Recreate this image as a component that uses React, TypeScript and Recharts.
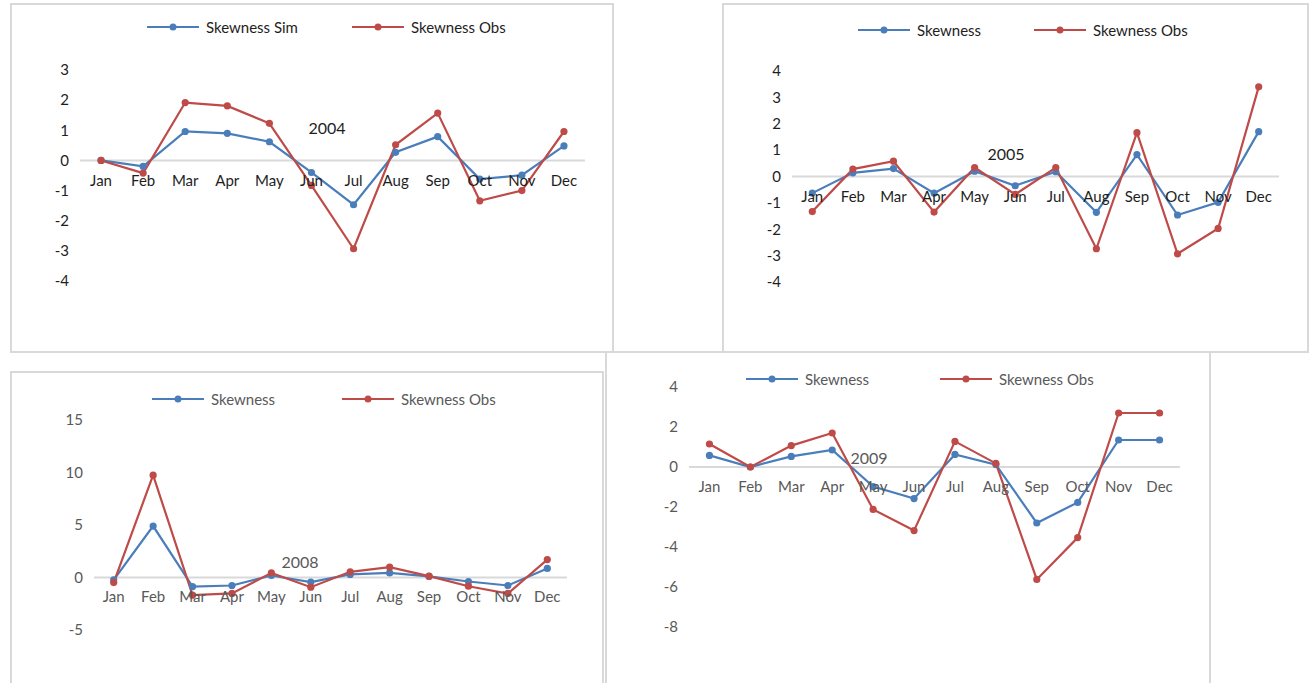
import { LineChart, Line, XAxis, YAxis, ReferenceLine, Legend } from 'recharts';

const FONT = 'Lato, "Open Sans", sans-serif';
const BLUE = '#4a7ebb';
const RED = '#be4b48';
const DARK_TEXT = '#1e1e1e';
const GREY_TEXT = '#595959';
const Y_AXIS_W = 50;
const X_AXIS_H = 1;

const months = ['Jan', 'Feb', 'Mar', 'Apr', 'May', 'Jun', 'Jul', 'Aug', 'Sep', 'Oct', 'Nov', 'Dec'];

// 2004
const sim2004 = [0, -0.2, 0.96, 0.9, 0.62, -0.4, -1.47, 0.27, 0.79, -0.62, -0.49, 0.48];
const obs2004 = [0, -0.42, 1.92, 1.81, 1.23, -0.83, -2.93, 0.52, 1.57, -1.34, -1.0, 0.96];
const ticks2004 = [-4, -3, -2, -1, 0, 1, 2, 3];

// 2005
const sim2005 = [-0.63, 0.14, 0.3, -0.63, 0.2, -0.35, 0.18, -1.36, 0.83, -1.46, -0.98, 1.7];
const obs2005 = [-1.33, 0.28, 0.58, -1.35, 0.34, -0.68, 0.34, -2.74, 1.66, -2.93, -1.97, 3.4];
const ticks2005 = [-4, -3, -2, -1, 0, 1, 2, 3, 4];

// 2008
const sim2008 = [-0.22, 4.9, -0.86, -0.76, 0.19, -0.44, 0.29, 0.44, 0.1, -0.38, -0.76, 0.86];
const obs2008 = [-0.48, 9.75, -1.68, -1.52, 0.44, -0.92, 0.54, 0.98, 0.13, -0.83, -1.52, 1.71];
const ticks2008 = [-5, 0, 5, 10, 15];

// 2009
const sim2009 = [0.58, 0, 0.53, 0.85, -0.98, -1.58, 0.63, 0.12, -2.8, -1.77, 1.35, 1.35];
const obs2009 = [1.15, 0, 1.07, 1.7, -2.12, -3.18, 1.28, 0.18, -5.62, -3.53, 2.7, 2.7];
const ticks2009 = [-8, -6, -4, -2, 0, 2, 4];

interface PanelProps {
  left: number;
  top: number;
  width: number;
  height: number;
  margin: { top: number; right: number; bottom: number; left: number };
  ticks: number[];
  sim: number[];
  obs: number[];
  simName: string;
  textColor: string;
  legendXs: [number, number];
  legendY: number;
  title: string;
  titleX: number;
  titleY: number;
  labelGap: number;
}

function SkewPanel(p: PanelProps) {
  const data = months.map((m, i) => ({ month: m, sim: p.sim[i], obs: p.obs[i] }));
  const min = p.ticks[0];
  const max = p.ticks[p.ticks.length - 1];
  const plotW = p.width - p.margin.left - p.margin.right - Y_AXIS_W;
  const plotH = p.height - p.margin.top - p.margin.bottom - X_AXIS_H;
  // categories sit between tick marks like Excel, labels hang under the zero line
  const pad = plotW / 24;
  const zeroShift = (plotH * (0 - min)) / (max - min);

  const renderLegend = (props: any) => (
    <div style={{ position: 'relative', height: 18 }}>
      {(props.payload ?? []).map((item: any, i: number) => (
        <div
          key={item.value}
          style={{
            position: 'absolute',
            left: p.legendXs[i] - p.legendXs[0],
            top: 0,
            display: 'flex',
            alignItems: 'center',
            height: 18,
            whiteSpace: 'nowrap',
          }}
        >
          <svg width={52} height={10} style={{ display: 'block' }}>
            <line x1={0} y1={5} x2={52} y2={5} stroke={item.color} strokeWidth={2} />
            <circle cx={26} cy={5} r={3.5} fill={item.color} />
          </svg>
          <span style={{ marginLeft: 7, fontSize: 15, fontFamily: FONT, color: p.textColor }}>{item.value}</span>
        </div>
      ))}
    </div>
  );

  return (
    <div
      style={{
        position: 'absolute',
        left: p.left,
        top: p.top,
        width: p.width,
        height: p.height,
        boxSizing: 'border-box',
        border: '2px solid #d9d9d9',
        background: '#fff',
      }}
    >
      <div style={{ position: 'absolute', left: -2, top: -2 }}>
        <LineChart width={p.width} height={p.height} data={data} margin={p.margin}>
          <XAxis
            dataKey="month"
            height={X_AXIS_H}
            interval={0}
            axisLine={false}
            tickLine={false}
            tickSize={0}
            tickMargin={0}
            padding={{ left: pad, right: pad }}
            tick={(t: any) => (
              <text
                x={t.x}
                y={t.y - zeroShift + p.labelGap}
                dy="0.36em"
                textAnchor="middle"
                fill={p.textColor}
                fontSize={15}
                fontFamily={FONT}
              >
                {t.payload.value}
              </text>
            )}
          />
          <YAxis
            type="number"
            width={Y_AXIS_W}
            domain={[min, max]}
            ticks={p.ticks}
            interval={0}
            allowDataOverflow
            axisLine={false}
            tickLine={false}
            tickSize={0}
            tickMargin={11}
            tick={{ fill: p.textColor, fontSize: 15, fontFamily: FONT }}
          />
          <ReferenceLine y={0} stroke="#d9d9d9" strokeWidth={2} />
          <Legend
            layout="horizontal"
            verticalAlign="middle"
            align="center"
            itemSorter={(item: any) => (item.dataKey === 'sim' ? 0 : 1)}
            wrapperStyle={{ left: p.legendXs[0], top: p.legendY - 9, width: 420 }}
            content={renderLegend}
          />
          <Line
            type="linear"
            dataKey="sim"
            name={p.simName}
            stroke={BLUE}
            strokeWidth={2.2}
            dot={{ r: 3.6, fill: BLUE, stroke: BLUE, strokeWidth: 0 }}
            activeDot={false}
            isAnimationActive={false}
          />
          <Line
            type="linear"
            dataKey="obs"
            name="Skewness Obs"
            stroke={RED}
            strokeWidth={2.2}
            dot={{ r: 3.6, fill: RED, stroke: RED, strokeWidth: 0 }}
            activeDot={false}
            isAnimationActive={false}
          />
        </LineChart>
      </div>
      <div
        style={{
          position: 'absolute',
          left: p.titleX - 2,
          top: p.titleY - 2,
          transform: 'translate(-50%, -50%)',
          fontFamily: FONT,
          fontSize: 16,
          color: p.textColor,
          pointerEvents: 'none',
        }}
      >
        {p.title}
      </div>
    </div>
  );
}

export default function App() {
  return (
    <div
      style={{
        position: 'absolute',
        left: 0,
        top: 0,
        width: 1311,
        height: 683,
        overflow: 'hidden',
        background: '#fff',
      }}
    >
      <SkewPanel
        left={10}
        top={3}
        width={604}
        height={350}
        margin={{ top: 67, right: 29, bottom: 71, left: 20 }}
        ticks={ticks2004}
        sim={sim2004}
        obs={obs2004}
        simName="Skewness Sim"
        textColor={DARK_TEXT}
        legendXs={[137, 342]}
        legendY={24}
        title="2004"
        titleX={317}
        titleY={124}
        labelGap={20.5}
      />
      <SkewPanel
        left={722}
        top={3}
        width={587}
        height={350}
        margin={{ top: 68, right: 30, bottom: 70, left: 20 }}
        ticks={ticks2005}
        sim={sim2005}
        obs={obs2005}
        simName="Skewness"
        textColor={DARK_TEXT}
        legendXs={[136, 312]}
        legendY={27}
        title="2005"
        titleX={284}
        titleY={150}
        labelGap={20}
      />
      <SkewPanel
        left={10}
        top={371}
        width={594}
        height={340}
        margin={{ top: 49, right: 37, bottom: 80, left: 34 }}
        ticks={ticks2008}
        sim={sim2008}
        obs={obs2008}
        simName="Skewness"
        textColor={GREY_TEXT}
        legendXs={[142, 332]}
        legendY={28}
        title="2008"
        titleX={290}
        titleY={190}
        labelGap={19.5}
      />
      <SkewPanel
        left={605}
        top={351}
        width={606}
        height={360}
        margin={{ top: 36, right: 31, bottom: 83, left: 34 }}
        ticks={ticks2009}
        sim={sim2009}
        obs={obs2009}
        simName="Skewness"
        textColor={GREY_TEXT}
        legendXs={[141, 335]}
        legendY={28}
        title="2009"
        titleX={264}
        titleY={106}
        labelGap={20}
      />
    </div>
  );
}
